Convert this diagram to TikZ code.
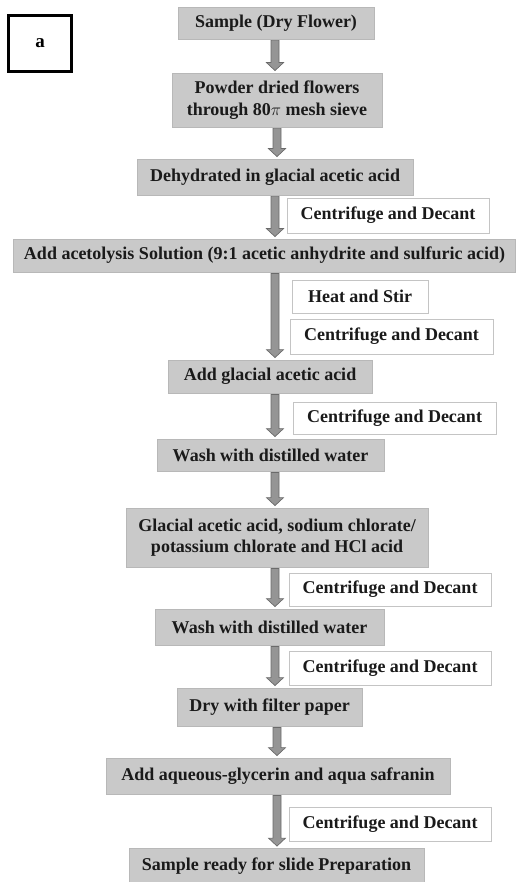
\documentclass[tikz,border=0pt]{standalone}
\usepackage{fontspec}
\setmainfont{Liberation Serif}
\usetikzlibrary{calc}
\definecolor{boxfill}{HTML}{C9C9C9}
\definecolor{boxline}{HTML}{B8B8B8}
\definecolor{sideline}{HTML}{C4C4C4}
\definecolor{arrfill}{HTML}{959595}
\definecolor{arrline}{HTML}{6A6A6A}
\definecolor{txt}{HTML}{1A1A1A}
\tikzset{
  stepbox/.style={draw=boxline, line width=0.8pt, fill=boxfill, inner sep=0pt, align=center,
    font=\fontsize{18}{21.5}\selectfont\bfseries, text=txt},
  sidebox/.style={draw=sideline, line width=0.8pt, fill=white, inner sep=0pt, align=center,
    font=\fontsize{18}{21.5}\selectfont\bfseries, text=txt},
  labbox/.style={draw=black, line width=3.5pt, fill=white, inner sep=0pt,
    font=\fontsize{19}{22}\selectfont\bfseries},
  blkarrow/.style={draw=arrline, fill=arrfill, line width=0.7pt, line join=miter}
}
\newcommand\blockarrow[3]{%
  \path[blkarrow] let \p1=($(#1.south -| #3)$), \p2=($(#2.north -| #3)$) in
    (\x1-4pt,\y1-1pt) -- (\x1+4pt,\y1-1pt) -- (\x1+4pt,\y2+10pt) -- (\x1+8.5pt,\y2+10pt)
    -- (\x1,\y2+2pt) -- (\x1-8.5pt,\y2+10pt) -- (\x1-4pt,\y2+10pt) -- cycle;}
\begin{document}
\begin{tikzpicture}[x=1pt,y=-1pt]
\useasboundingbox (0,0) rectangle (516,882);
\coordinate (ax) at (275,0);
\coordinate (bx) at (277,0);
\node[labbox, minimum width=63pt, minimum height=56pt] (lab) at (40,43.5) {\raisebox{-1.5pt}{a}};
\node[stepbox, minimum width=196pt, minimum height=32pt] (n1) at (276,23) {Sample (Dry Flower)};
\node[stepbox, minimum width=210pt, minimum height=54pt] (n2) at (277,100) {Powder dried flowers\\through 80\(\pi\) mesh sieve};
\node[stepbox, minimum width=276pt, minimum height=36pt] (n3) at (275,177) {Dehydrated in glacial acetic acid};
\node[sidebox, minimum width=202pt, minimum height=35pt] (c1) at (388,215.5) {Centrifuge and Decant};
\node[stepbox, minimum width=502pt, minimum height=33pt] (n4) at (264.5,255.5) {Add acetolysis Solution (9:1 acetic anhydrite and sulfuric acid)};
\node[sidebox, minimum width=136pt, minimum height=33pt] (h1) at (360,296.5) {Heat and Stir};
\node[sidebox, minimum width=203pt, minimum height=35pt] (c2) at (391.5,336.5) {Centrifuge and Decant};
\node[stepbox, minimum width=204pt, minimum height=33pt] (n5) at (270,376.5) {Add glacial acetic acid};
\node[sidebox, minimum width=203pt, minimum height=32pt] (c3) at (394.5,418) {Centrifuge and Decant};
\node[stepbox, minimum width=227pt, minimum height=32pt] (n6) at (270.5,455) {Wash with distilled water};
\node[stepbox, minimum width=302pt, minimum height=59pt] (n7) at (277,537.5) {Glacial acetic acid, sodium chlorate/\\potassium chlorate and HCl acid};
\node[sidebox, minimum width=202pt, minimum height=33pt] (c4) at (390,589.5) {Centrifuge and Decant};
\node[stepbox, minimum width=229pt, minimum height=36pt] (n8) at (269.5,627) {Wash with distilled water};
\node[sidebox, minimum width=202pt, minimum height=34pt] (c5) at (390,668) {Centrifuge and Decant};
\node[stepbox, minimum width=185pt, minimum height=38pt] (n9) at (269.5,707) {Dry with filter paper};
\node[stepbox, minimum width=344pt, minimum height=36pt] (n10) at (278,776) {Add aqueous-glycerin and aqua safranin};
\node[sidebox, minimum width=202pt, minimum height=34pt] (c6) at (390,824) {Centrifuge and Decant};
\node[stepbox, minimum width=295pt, minimum height=35pt] (n11) at (276.5,866) {Sample ready for slide Preparation};
\blockarrow{n1}{n2}{ax}
\blockarrow{n2}{n3}{bx}
\blockarrow{n3}{n4}{ax}
\blockarrow{n4}{n5}{ax}
\blockarrow{n5}{n6}{ax}
\blockarrow{n6}{n7}{ax}
\blockarrow{n7}{n8}{ax}
\blockarrow{n8}{n9}{ax}
\blockarrow{n9}{n10}{bx}
\blockarrow{n10}{n11}{bx}
\end{tikzpicture}
\end{document}
